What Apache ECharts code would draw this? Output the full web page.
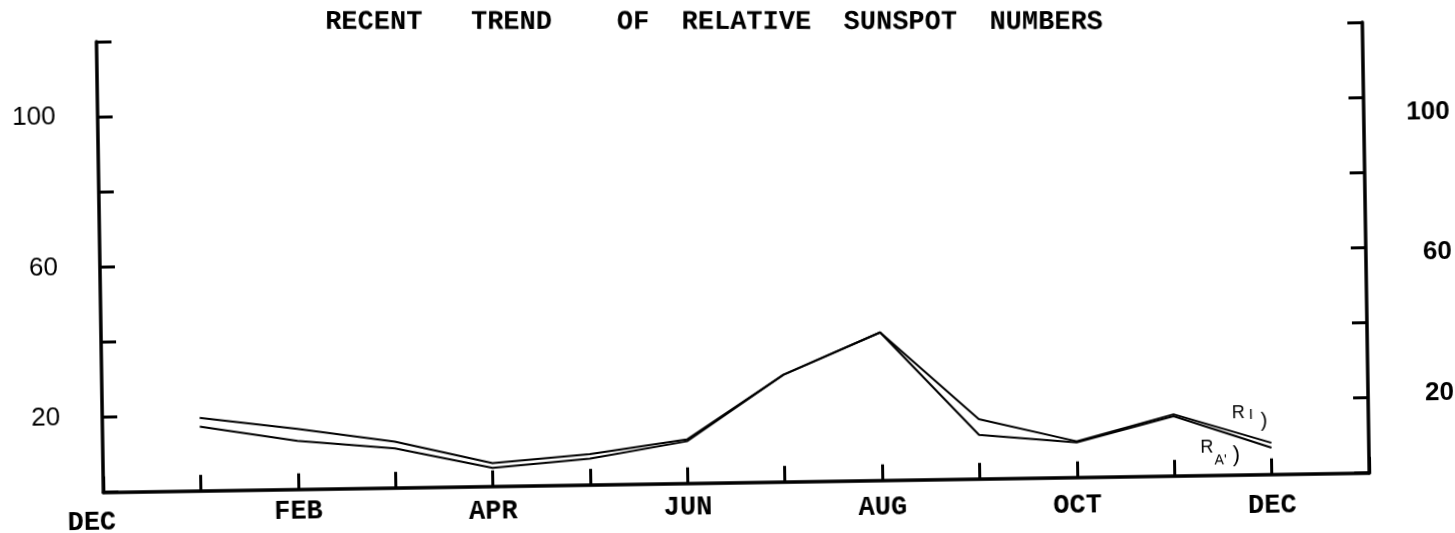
<!DOCTYPE html>
<html>
<head>
<meta charset="utf-8">
<script src="https://cdn.jsdelivr.net/npm/echarts@6/dist/echarts.min.js"></script>
<style>
  html, body { margin: 0; padding: 0; background: #ffffff; overflow: hidden; }
  #chart { width: 1455px; height: 533px; transform: rotate(-0.88deg); transform-origin: 50% 50%; }
</style>
</head>
<body>
<div id="chart"></div>
<script>
// ---- data ----
const months = ['DEC', 'JAN', 'FEB', 'MAR', 'APR', 'MAY', 'JUN', 'JUL', 'AUG', 'SEP', 'OCT', 'NOV', 'DEC', ''];
const seriesRI = [null, 19.4, 16.1, 12.3, 6.2, 8.2, 11.7, 28.5, 39.4, 15.9, 9.6, 16.4, 8.4];
const seriesRA = [null, 17.1, 12.9, 10.5, 4.9, 7.0, 11.2, 28.5, 39.4, 11.7, 9.3, 15.9, 7.1];
const yTickLabels = [20, 60, 100];
const titleText = 'RECENT   TREND    OF  RELATIVE  SUNSPOT  NUMBERS';

// ---- chart ----
const chart = echarts.init(document.getElementById('chart'), null, { renderer: 'canvas' });
const black = '#000000';
const mono = "'Liberation Mono', 'DejaVu Sans Mono', monospace";
const sans = "'Liberation Sans', 'DejaVu Sans', sans-serif";
const monoFont = { fontFamily: mono, fontWeight: 'bold', fontSize: 27, lineHeight: 28, color: black };
const rightFont = { fontFamily: sans, fontWeight: 'bold', fontSize: 26, color: black };

// vertical nudges of the hand-typed month labels (top padding, px)
const labelPad = { 0: [16, 24, 0, 0], 2: [0, 0, 0, 0], 4: [5, 0, 0, 0], 6: [3, 0, 0, 0], 8: [9, 0, 0, 0], 10: [12, 0, 0, 0], 12: [17, 0, 0, 0] };
const xRich = {};
Object.keys(labelPad).forEach(k => { xRich['m' + k] = Object.assign({}, monoFont, { padding: labelPad[k] }); });

const option = {
  backgroundColor: '#ffffff',
  animation: false,
  graphic: [{
    type: 'text',
    x: 329, y: 16,
    rotation: -0.01536,
    style: {
      text: titleText,
      font: "bold 27px 'Liberation Mono', 'DejaVu Sans Mono', monospace",
      fill: black,
      textAlign: 'left',
      textVerticalAlign: 'middle'
    }
  }],
  grid: { left: 100, right: 88.5, top: 32, bottom: 50.3, containLabel: false },
  xAxis: {
    type: 'category',
    data: months,
    boundaryGap: false,
    axisLine: { lineStyle: { color: black, width: 3.5 } },
    axisTick: { show: true, inside: true, length: 16, interval: 0, lineStyle: { color: black, width: 3 } },
    axisLabel: Object.assign({}, monoFont, {
      interval: 1,
      margin: 9,
      formatter: function (value, index) {
        if (labelPad[index]) return '{m' + index + '|' + value + '}';
        return value;
      },
      rich: xRich
    }),
    splitLine: { show: false }
  },
  yAxis: [
    {
      type: 'value', position: 'left', min: 0, max: 120, interval: 20,
      axisLine: { show: true, lineStyle: { color: black, width: 3.5 } },
      axisTick: { show: true, inside: true, length: 15, lineStyle: { color: black, width: 3 } },
      axisLabel: {
        margin: 42, fontFamily: sans, fontSize: 26, color: black,
        formatter: v => yTickLabels.includes(v) ? String(v) : ''
      },
      splitLine: { show: false }
    },
    {
      type: 'value', position: 'right', min: 0, max: 120, interval: 20,
      axisLine: { show: true, lineStyle: { color: black, width: 3.5 } },
      axisTick: { show: true, inside: true, length: 15, lineStyle: { color: black, width: 3 } },
      axisLabel: Object.assign({}, rightFont, {
        margin: 86, align: 'right',
        formatter: function (v) {
          if (!yTickLabels.includes(v)) return '';
          return '{y' + v + '|' + v + '}';
        },
        rich: {
          y100: Object.assign({}, rightFont, { padding: [32, 0, 0, 0] }),
          y60: Object.assign({}, rightFont, { padding: [10, 0, 0, 0] }),
          y20: Object.assign({}, rightFont, { padding: [0, 0, 8, 0] })
        }
      }),
      splitLine: { show: false }
    }
  ],
  series: [
    {
      name: 'RI', type: 'line', data: seriesRI, yAxisIndex: 0,
      showSymbol: false, connectNulls: false,
      lineStyle: { color: black, width: 2 },
      endLabel: {
        show: true, offset: [-47, -30],
        formatter: '{r|R}{s|I}{h| )}',
        rich: {
          r: { fontFamily: sans, fontSize: 18, color: black },
          s: { fontFamily: sans, fontSize: 15, color: black, padding: [3, 0, 0, 4] },
          h: { fontFamily: sans, fontSize: 20, color: black, padding: [16, 0, 0, 2] }
        }
      }
    },
    {
      name: "RA'", type: 'line', data: seriesRA, yAxisIndex: 0,
      showSymbol: false, connectNulls: false,
      lineStyle: { color: black, width: 2 },
      endLabel: {
        show: true, offset: [-79, 5],
        formatter: "{r|R}{s|A'}{h| )}",
        rich: {
          r: { fontFamily: sans, fontSize: 18, color: black, padding: [0, 0, 12, 0] },
          s: { fontFamily: sans, fontSize: 14, color: black, padding: [14, 0, 0, 1] },
          h: { fontFamily: sans, fontSize: 22, color: black, padding: [4, 0, 0, 0] }
        }
      }
    }
  ]
};
chart.setOption(option);
</script>
</body>
</html>
